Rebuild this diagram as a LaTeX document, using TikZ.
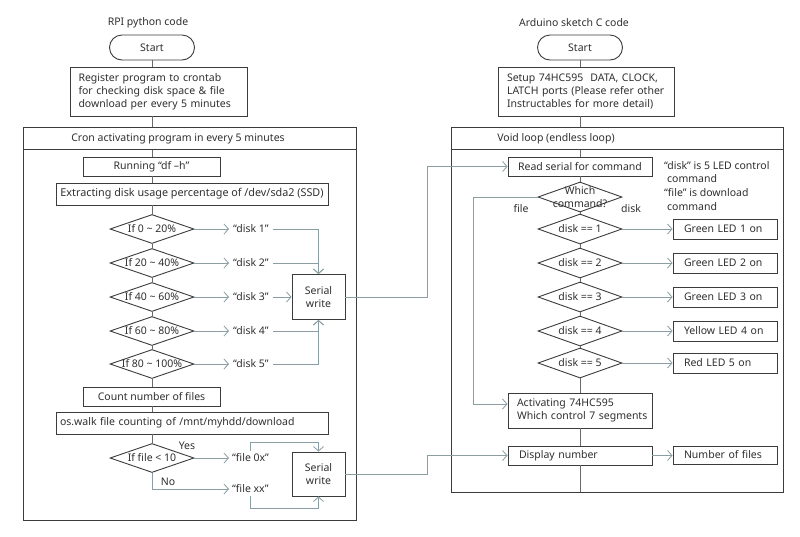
\documentclass[tikz,border=0pt]{standalone}
\usepackage{fontspec}
\setmainfont{Noto Sans}
\usetikzlibrary{arrows.meta,shapes.geometric}
\definecolor{boxc}{HTML}{3C3C3C}
\definecolor{conc}{HTML}{8A9EA3}
\definecolor{txtc}{HTML}{303030}
\definecolor{spinec}{HTML}{6A6A6A}
\newcommand\lines[1]{\begin{tabular}{@{}l@{}}#1\end{tabular}}
\begin{document}
\begin{tikzpicture}[x=1pt,y=-1pt, font=\fontsize{10.5}{13}\selectfont, text=txtc,
 box/.style={draw=boxc, line width=0.9pt, inner sep=0pt},
 term/.style={draw=boxc, line width=0.9pt, rounded corners=12.5pt, minimum width=85pt, minimum height=25pt, inner sep=0pt},
 dia/.style={draw=boxc, line width=0.9pt, diamond, inner sep=0pt, minimum width=84pt, minimum height=29pt},
 conn/.style={draw=conc, line width=0.8pt},
 arr/.style={conn, -{Straight Barb[length=4.5pt,width=10pt]}},
 spine/.style={draw=spinec, line width=0.8pt},
 lbl/.style={inner sep=0pt},
 ]
\useasboundingbox[fill=white] (0,0) rectangle (800,536);
% ---------------- Left: RPI ----------------
\node[lbl] (ttl1) at (148,23) {RPI python code};
\node[term] (st1) at (152,47.5) {Start};
\node[box, minimum width=177pt, minimum height=49pt, text width=160pt, align=left, inner xsep=8.5pt] (reg) at (158.5,91.5) {\lines{Register program to crontab\\for checking disk space \& file\\download per every 5 minutes}};
\node[box, minimum width=333pt, minimum height=393pt] (cron) at (189.5,323.5) {};
\draw[draw=boxc, line width=0.9pt] ([yshift=-23pt]cron.north west) -- ([yshift=-23pt]cron.north east);
\node[lbl] (cronh) at (178,138.5) {Cron activating program in every 5 minutes};
\node[box, minimum width=137pt, minimum height=19pt] (df) at (151.5,166.5) {Running “df –h”};
\node[box, minimum width=272pt, minimum height=22pt, font=\fontsize{10.8}{13}\selectfont] (ext) at (192,194) {Extracting disk usage percentage of /dev/sda2 (SSD)};
\node[dia, label={center:{If 0 \textasciitilde\ 20\%}}] (d1) at (152,229) {};
\node[dia, label={center:{If 20 \textasciitilde\ 40\%}}] (d2) at (152,263) {};
\node[dia, label={center:{If 40 \textasciitilde\ 60\%}}] (d3) at (152,297) {};
\node[dia, label={center:{If 60 \textasciitilde\ 80\%}}] (d4) at (152,331) {};
\node[dia, label={center:{If 80 \textasciitilde\ 100\%}}] (d5) at (152,364) {};
\node[lbl, anchor=west, inner xsep=4pt] (t1) at (229,229) {“disk 1”};
\node[lbl, anchor=west, inner xsep=4pt] (t2) at (229,263) {“disk 2”};
\node[lbl, anchor=west, inner xsep=4pt] (t3) at (229,297) {“disk 3”};
\node[lbl, anchor=west, inner xsep=4pt] (t4) at (229,331) {“disk 4”};
\node[lbl, anchor=west, inner xsep=4pt] (t5) at (229,364) {“disk 5”};
\node[box, minimum width=53pt, minimum height=45pt, align=center] (s1) at (318.5,297) {Serial\\write};
\node[box, minimum width=137pt, minimum height=19pt] (cnt) at (151.5,396.5) {Count number of files};
\node[box, minimum width=272pt, minimum height=22pt, text width=264pt, align=left, inner xsep=4pt] (osw) at (192,423) {\mbox{os.walk file counting of /mnt/myhdd/download}};
\node[dia, label={center:{If file < 10}}] (d6) at (152,458) {};
\node[lbl] (yes) at (187,446) {Yes};
\node[lbl] (no) at (168,482) {No};
\node[lbl, anchor=west, inner sep=3pt] (f1) at (229,458) {“file 0x”};
\node[lbl, anchor=west, inner sep=3pt] (f2) at (229,489) {“file xx”};
\node[box, minimum width=53pt, minimum height=44pt, align=center] (s2) at (318.5,474) {Serial\\write};
% spine left
\draw[spine] (st1.south) -- (st1.south |- reg.north);
\draw[spine] (reg.south -| st1.south) -- (st1.south |- cron.north);
\draw[spine] ([yshift=-23pt]cron.north -| d1.north) -- (d1.north |- df.north);
\draw[spine] (df.south -| d1.north) -- (d1.north |- ext.north);
\draw[spine] (ext.south -| d1.north) -- (d1.north);
\draw[spine] (d1.south) -- (d2.north);
\draw[spine] (d2.south) -- (d3.north);
\draw[spine] (d3.south) -- (d4.north);
\draw[spine] (d4.south) -- (d5.north);
\draw[spine] (d5.south) -- (d5.south |- cnt.north);
\draw[spine] (cnt.south -| d6.north) -- (d6.north |- osw.north);
\draw[spine] (osw.south -| d6.north) -- (d6.north);
% connectors left
\foreach \i in {1,...,5} {\draw[arr] (d\i.east) -- (t\i.west);}
\draw[arr] (t1.east) -| (s1.north);
\draw[arr] (t2.east) -| (s1.north);
\draw[arr] (t3.east) -- (s1.west);
\draw[arr] (t4.east) -| (s1.south);
\draw[arr] (t5.east) -| (s1.south);
\draw[arr] (d6.east) -- (f1.west);
\draw[arr] (d6.south) |- (f2.west);
\draw[arr] (f1.north) -- (f1.north |- 0,442) -| (s2.north);
\draw[arr] (f2.south) -- (f2.south |- 0,508) -| (s2.south);
% ---------------- Right: Arduino ----------------
\node[lbl] (ttl2) at (574,23) {Arduino sketch C code};
\node[term] (st2) at (580,47.5) {Start};
\node[box, minimum width=176pt, minimum height=49pt, text width=158pt, align=left, inner xsep=9pt] (setup) at (586,91.5) {\lines{Setup 74HC595\ \ DATA, CLOCK,\\LATCH ports (Please refer other\\Instructables for more detail)}};
\node[box, minimum width=332pt, minimum height=365pt] (loop) at (617,309.5) {};
\draw[draw=boxc, line width=0.9pt] ([yshift=-23pt]loop.north west) -- ([yshift=-23pt]loop.north east);
\node[lbl] (looph) at (556,138.5) {Void loop (endless loop)};
\node[box, minimum width=144pt, minimum height=19pt] (rs) at (580,166.5) {Read serial for command};
\node[dia, minimum height=30pt, label={[align=center, font=\fontsize{10.5}{13.5}\selectfont]center:{Which\\command?}}] (wc) at (580,197) {};
\node[lbl] (lfile) at (521,209) {file};
\node[lbl] (ldisk) at (631,209) {disk};
\node[lbl, anchor=north west, align=left, font=\fontsize{10.5}{13.8}\selectfont] (note) at (664,161) {“disk” is 5 LED control\\\hspace{3pt}command\\“file” is download\\\hspace{3pt}command};
\node[dia, minimum height=30pt, label={center:{disk == 1}}] (k1) at (580,229) {};
\node[dia, minimum height=30pt, label={center:{disk == 2}}] (k2) at (580,263) {};
\node[dia, minimum height=30pt, label={center:{disk == 3}}] (k3) at (580,297) {};
\node[dia, minimum height=30pt, label={center:{disk == 4}}] (k4) at (580,331) {};
\node[dia, minimum height=30pt, label={center:{disk == 5}}] (k5) at (580,363) {};
\tikzset{led/.style={box, minimum width=104pt, minimum height=20pt, text width=82pt, align=left, inner xsep=11pt}}
\node[led] (l1) at (725,229) {\mbox{Green LED 1 on}};
\node[led] (l2) at (725,263) {\mbox{Green LED 2 on}};
\node[led] (l3) at (725,297) {\mbox{Green LED 3 on}};
\node[led] (l4) at (725,331) {\mbox{Yellow LED 4 on}};
\node[led] (l5) at (725,363) {\mbox{Red LED 5 on}};
\node[box, minimum width=144pt, minimum height=35pt, text width=126pt, align=left, inner xsep=9pt] (act) at (580,410.5) {\lines{Activating 74HC595\\Which control 7 segments}};
\node[box, minimum width=144pt, minimum height=19pt, text width=122pt, align=left, inner xsep=11pt] (dn) at (580,455.5) {\mbox{Display number}};
\node[led, minimum height=18pt] (nf) at (725,455) {\mbox{Number of files}};
% spine right
\draw[spine] (st2.south) -- (st2.south |- setup.north);
\draw[spine] (setup.south -| rs.north) -- (rs.north |- loop.north);
\draw[spine] ([yshift=-23pt]loop.north -| rs.north) -- (rs.north);
\draw[spine] (rs.south) -- (wc.north);
\draw[spine] (wc.south) -- (k1.north);
\draw[spine] (k1.south) -- (k2.north);
\draw[spine] (k2.south) -- (k3.north);
\draw[spine] (k3.south) -- (k4.north);
\draw[spine] (k4.south) -- (k5.north);
\draw[spine] (k5.south) -- (act.north);
\draw[spine] (act.south) -- (dn.north);
\draw[spine] (dn.south) -- (dn.south |- loop.south);
% connectors right
\foreach \i in {1,...,5} {\draw[arr] (k\i.east) -- (l\i.west);}
\draw[arr] (dn.east) -- (dn.east -| nf.west);
\coordinate (fbus) at (473,0);
\draw[arr] (wc.west) -- (wc.west -| fbus) |- ([yshift=6.5pt]act.west);
% cross connectors
\coordinate (bus) at (427,0);
\draw[arr] (s1.east) -- (s1.east -| bus) |- (rs.west);
\draw[arr] (s2.east) -- (s2.east -| bus) |- (dn.west);
\end{tikzpicture}
\end{document}
